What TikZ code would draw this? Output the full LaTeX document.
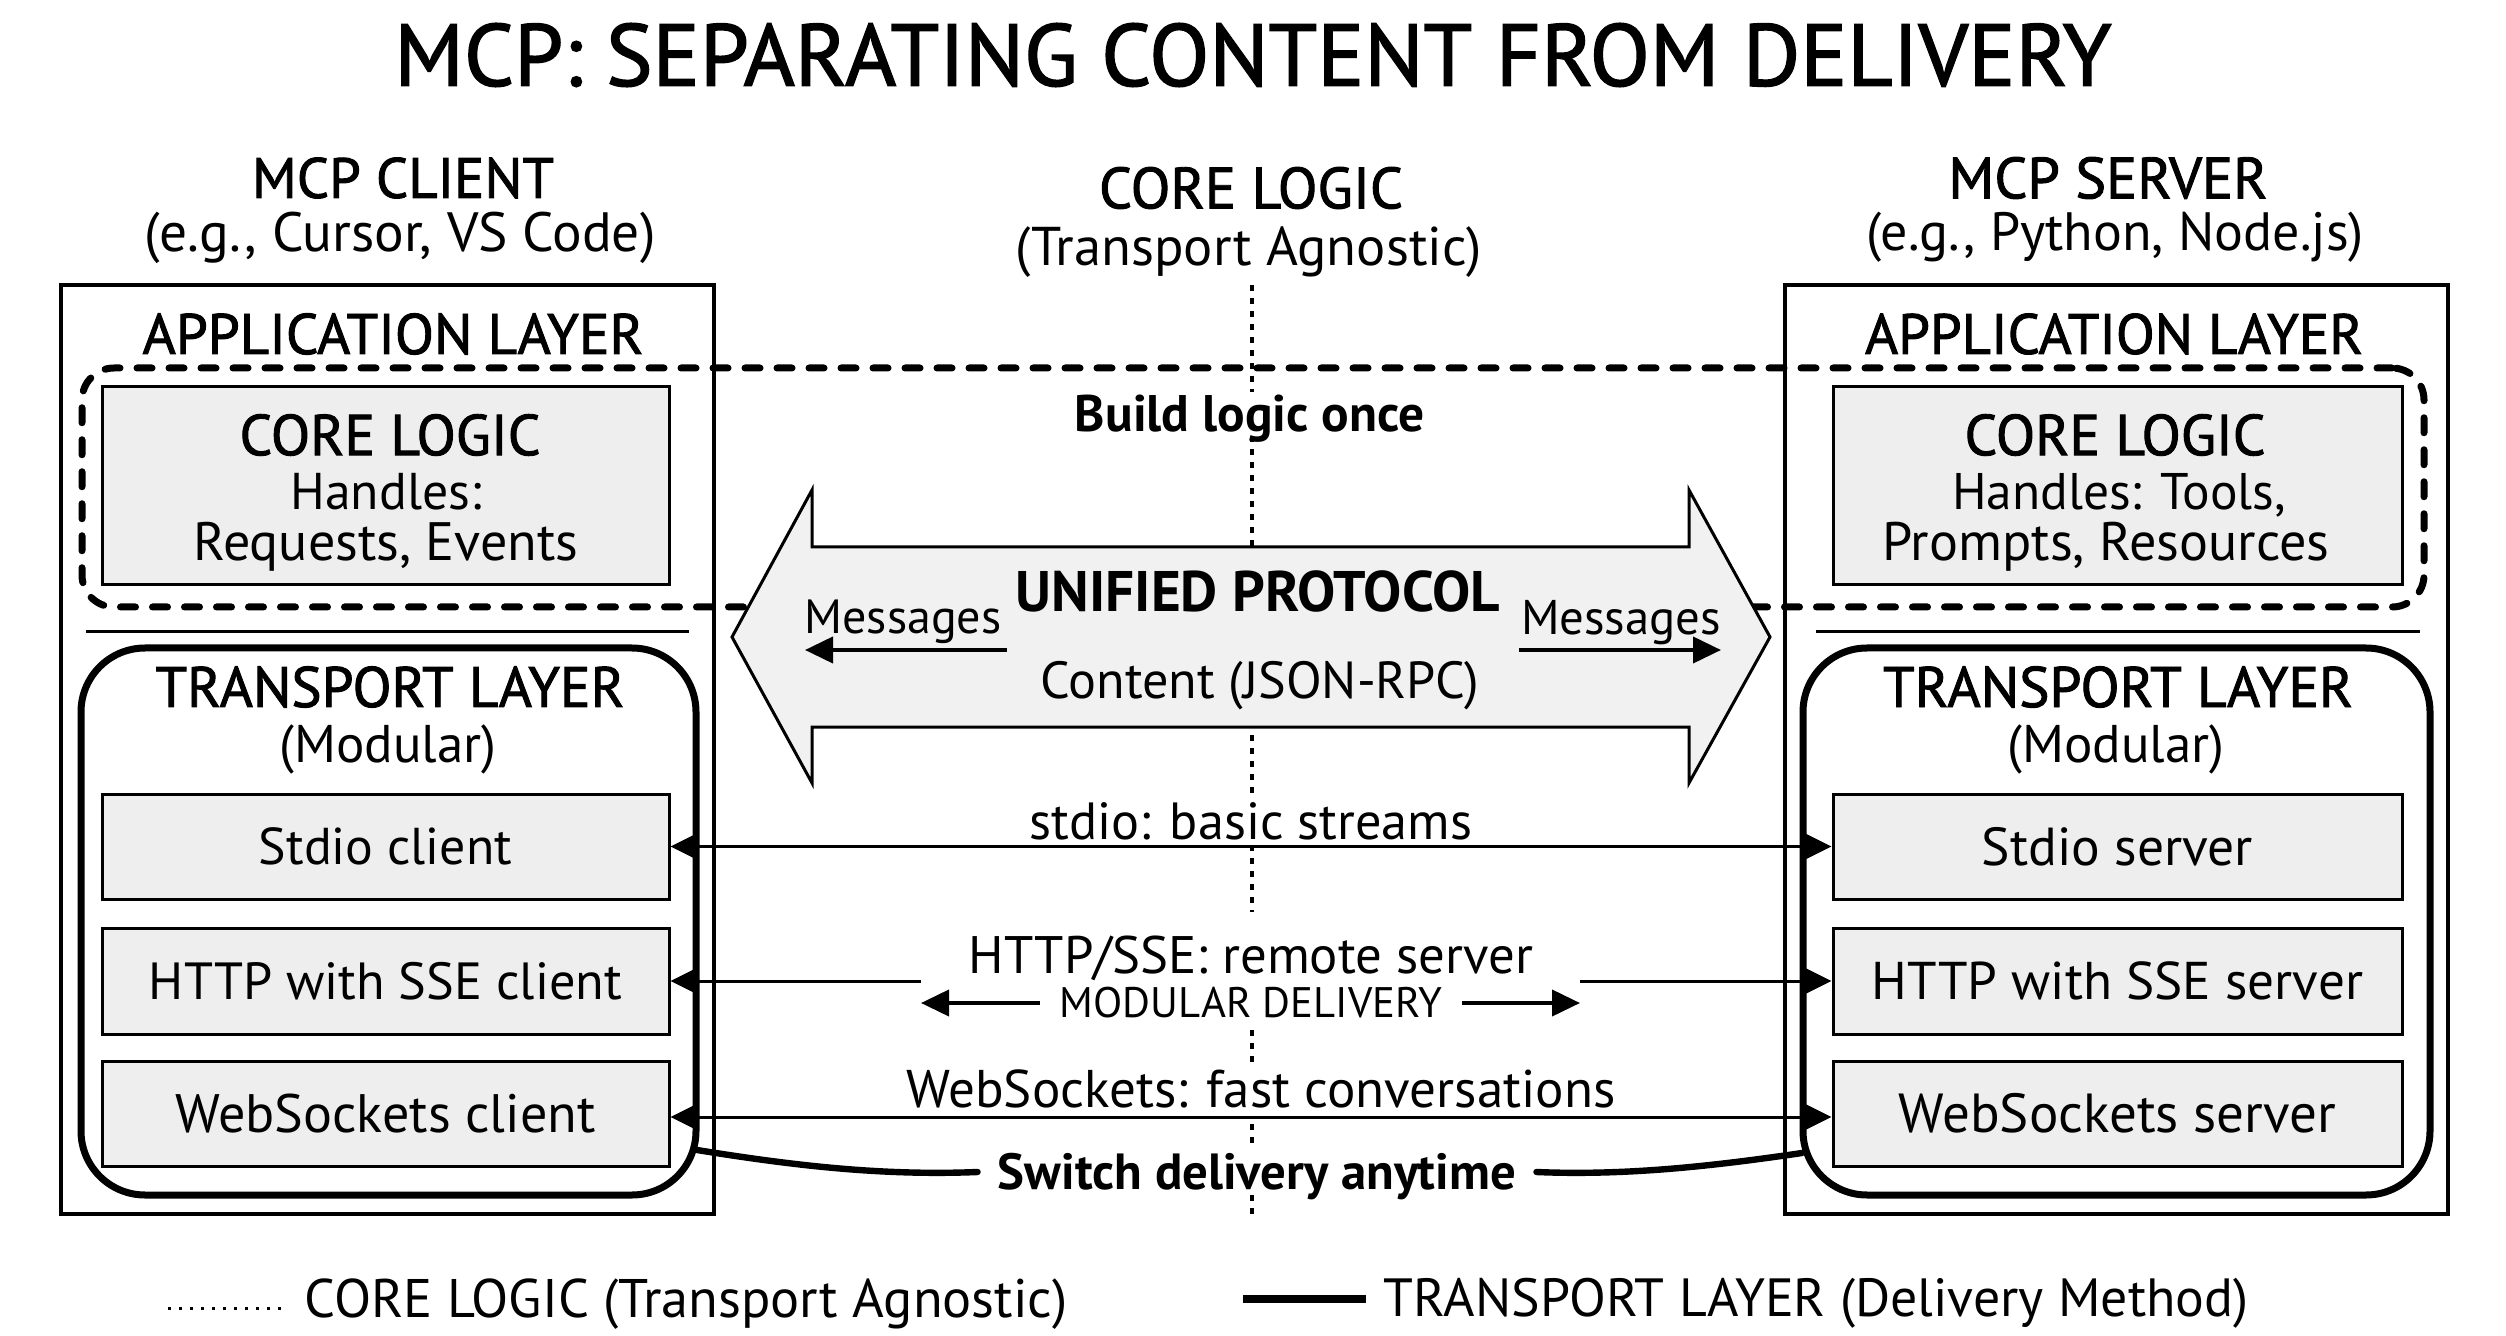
\documentclass[tikz,border=0pt]{standalone}
\usepackage{fontspec}
\setmainfont{PT Sans}
\newfontfamily\medfont{PT Sans}[FakeBold=1.6]
\usetikzlibrary{arrows.meta,calc}
\newlength\mypx \setlength\mypx{0.5pt}
\newcommand{\fitt}[2]{\resizebox{#1\mypx}{!}{\rule[-0.25em]{0pt}{1.2em}#2}}
\definecolor{boxgray}{HTML}{EEEEEE}
\definecolor{arrgray}{HTML}{F1F1F1}
\begin{document}
\begin{tikzpicture}[x=0.5pt,y=-0.5pt,
  txt/.style={inner sep=0pt, anchor=center},
  outerbox/.style={draw, line width=1.6pt, inner sep=0pt},
  dashbox/.style={draw, line width=3.5pt, rounded corners=16pt, dash pattern=on 7.5pt off 8.5pt, line cap=round, inner sep=0pt},
  corebox/.style={draw, fill=boxgray, line width=1.5pt, inner sep=0pt},
  transbox/.style={draw, line width=3.5pt, rounded corners=32pt, inner sep=0pt},
  sepline/.style={line width=1.5pt},
  centerdots/.style={line width=1.6pt, dash pattern=on 3pt off 3.5pt},
  proto/.style={draw, fill=arrgray, line width=1.5pt, line join=miter},
  conn/.style={line width=1.5pt, {Triangle[length=13pt,width=12.5pt]}-{Triangle[length=13pt,width=12.5pt]}},
  connl/.style={line width=1.5pt, {Triangle[length=13pt,width=12.5pt]}-},
  connr/.style={line width=1.5pt, -{Triangle[length=13pt,width=12.5pt]}},
  smallarr/.style={line width=2pt, -{Triangle[length=14pt,width=13pt]}},
  thickln/.style={line width=3.2pt, line cap=round},
]
\useasboundingbox (0,0) rectangle (2506,1336);
\fill[white] (0,0) rectangle (2506,1336);

% headings
\node[txt] (title) at (1253,55) {\fitt{1717}{\medfont MCP: SEPARATING CONTENT FROM DELIVERY}};
\node[txt] (hcl) at (403,178) {\fitt{302}{\medfont MCP CLIENT}};
\node[txt] (hcl2) at (400,232) {\fitt{511}{(e.g., Cursor, VS Code)}};
\node[txt] (hco) at (1251,188) {\fitt{304}{\medfont CORE LOGIC}};
\node[txt] (hco2) at (1249,246) {\fitt{466}{(Transport Agnostic)}};
\node[txt] (hsv) at (2108,178) {\fitt{319}{\medfont MCP SERVER}};
\node[txt] (hsv2) at (2115,232) {\fitt{498}{(e.g., Python, Node.js)}};

% outer boxes
\node[outerbox, minimum width=653*\mypx, minimum height=929*\mypx] (lout) at (387.5,749.5) {};
\node[outerbox, minimum width=663*\mypx, minimum height=929*\mypx] (rout) at (2116.5,749.5) {};

\node[txt] (lapp) at (393,334) {\fitt{501}{\medfont APPLICATION LAYER}};
\node[txt] (rapp) at (2114,334) {\fitt{498}{\medfont APPLICATION LAYER}};

% dashed core logic region
\node[dashbox, minimum width=2342*\mypx, minimum height=239*\mypx] (dash) at (1253,487.5) {};

% center dotted line
\foreach \a/\b in {285/392, 436/797, 845/912, 1030/1066, 1124/1146, 1195/1217}
  \draw[centerdots] (1252,\a) -- (1252,\b);

% unified protocol arrow
\draw[proto] (732,637) -- (812,490) -- (812,547) -- (1689,547) -- (1689,490) -- (1770,637)
  -- (1689,783) -- (1689,727) -- (812,727) -- (812,783) -- cycle;
\node[txt] (uni) at (1258,591) {\fitt{484}{\bfseries UNIFIED PROTOCOL}};
\node[txt] (ml) at (903,617) {\fitt{197}{Messages}};
\node[txt] (mr) at (1621,617) {\fitt{200}{Messages}};
\node[txt] (json) at (1260,680) {\fitt{439}{Content (JSON-RPC)}};
\draw[smallarr] (1007,650) -- (805,650);
\draw[smallarr] (1519,650) -- (1721,650);

\node[txt] (build) at (1250,414) {\fitt{350}{\bfseries Build logic once}};

% core boxes
\node[corebox, minimum width=567*\mypx, minimum height=198*\mypx] (lcore) at (385.5,486) {};
\node[corebox, minimum width=569*\mypx, minimum height=198*\mypx] (rcore) at (2117.5,486) {};
\node[txt] (lc1) at (390,435) {\fitt{301}{\medfont CORE LOGIC}};
\node[txt] (lc2) at (386,491) {\fitt{191}{Handles:}};
\node[txt] (lc3) at (386,542) {\fitt{385}{Requests, Events}};
\node[txt] (rc1) at (2115,435) {\fitt{301}{\medfont CORE LOGIC}};
\node[txt] (rc2) at (2119,491) {\fitt{334}{Handles: Tools,}};
\node[txt] (rc3) at (2106,542) {\fitt{447}{Prompts, Resources}};

% separators
\draw[sepline] (86,632) -- (689,632);
\draw[sepline] (1816,632) -- (2420,632);

% transport boxes
\node[transbox, minimum width=615*\mypx, minimum height=547*\mypx] (ltr) at (388.5,921.5) {};
\node[transbox, minimum width=627*\mypx, minimum height=547*\mypx] (rtr) at (2116.5,921.5) {};
\node[txt] (lt1) at (390,687) {\fitt{469}{\medfont TRANSPORT LAYER}};
\node[txt] (lt2) at (388,744) {\fitt{217}{(Modular)}};
\node[txt] (rt1) at (2118,687) {\fitt{470}{\medfont TRANSPORT LAYER}};
\node[txt] (rt2) at (2116,744) {\fitt{217}{(Modular)}};

% transport items
\node[corebox, minimum width=567*\mypx, minimum height=105*\mypx] (lst) at (385.5,846.5) {};
\node[corebox, minimum width=567*\mypx, minimum height=106*\mypx] (lht) at (385.5,981) {};
\node[corebox, minimum width=567*\mypx, minimum height=105*\mypx] (lws) at (385.5,1113.5) {};
\node[corebox, minimum width=569*\mypx, minimum height=105*\mypx] (rst) at (2117.5,846.5) {};
\node[corebox, minimum width=569*\mypx, minimum height=106*\mypx] (rht) at (2117.5,981) {};
\node[corebox, minimum width=569*\mypx, minimum height=105*\mypx] (rws) at (2117.5,1113.5) {};
\node[txt] (lstt) at (lst) {\fitt{253}{Stdio client}};
\node[txt] (lhtt) at (lht) {\fitt{473}{HTTP with SSE client}};
\node[txt] (lwst) at (lws) {\fitt{420}{WebSockets client}};
\node[txt] (rstt) at (rst) {\fitt{271}{Stdio server}};
\node[txt] (rhtt) at (rht) {\fitt{491}{HTTP with SSE server}};
\node[txt] (rwst) at (rws) {\fitt{437}{WebSockets server}};

% connector labels
\node[txt] (lstd) at (1251,821) {\fitt{442}{stdio: basic streams}};
\node[txt] (lhttp) at (1251,955) {\fitt{564}{HTTP/SSE: remote server}};
\node[txt] (mod) at (1251,1003) {\fitt{382}{MODULAR DELIVERY}};
\node[txt] (lwsl) at (1261,1089) {\fitt{709}{WebSockets: fast conversations}};
\node[txt] (sw) at (1257,1172) {\fitt{518}{\bfseries Switch delivery anytime}};

% connectors
\draw[conn] (lst.east) -- (rst.west);
\coordinate (hl) at (921,981);
\coordinate (hr) at (1580,981);
\draw[connl] (lht.east) -- (hl);
\draw[connr] (hr) -- (rht.west);
\draw[smallarr] ([xshift=-10pt]mod.west) -- (hl |- mod);
\draw[smallarr] ([xshift=10pt]mod.east) -- (hr |- mod);
\draw[conn] ([yshift=-1.75pt]lws.east) -- ([yshift=-1.75pt]rws.west);

\coordinate (swl) at (697,1150);
\coordinate (swr) at (1802,1153);
\draw[thickln] (swl) .. controls (790,1165) and (880,1176) .. ([xshift=-10pt]sw.west);
\draw[thickln] ([xshift=10pt]sw.east) .. controls (1630,1176) and (1720,1165) .. (swr);

% legend
\draw[line width=1.5pt, dash pattern=on 1.5pt off 4pt] (168,1308) -- (288,1308);
\node[txt] (leg1) at (686,1298) {\fitt{763}{CORE LOGIC (Transport Agnostic)}};
\draw[line width=4pt] (1243,1299) -- (1366,1299);
\node[txt] (leg2) at (1816,1298) {\fitt{865}{TRANSPORT LAYER (Delivery Method)}};
\end{tikzpicture}
\end{document}
